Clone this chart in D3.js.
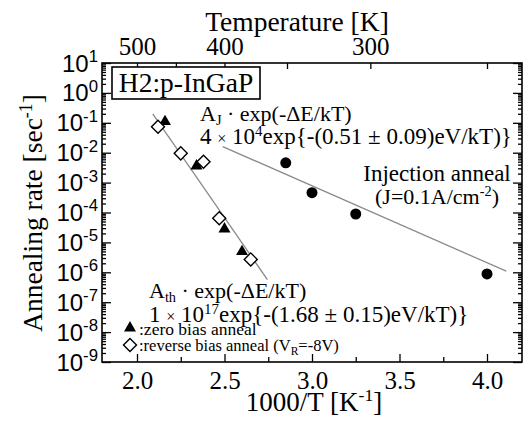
<!DOCTYPE html>
<html><head><meta charset="utf-8">
<script src="https://cdn.jsdelivr.net/npm/d3@7"></script>
<style>
html,body{margin:0;padding:0;background:#fff;}
svg{display:block;font-family:"Liberation Serif","Times New Roman",serif;}
text{white-space:pre;}
</style></head><body>
<svg id="chart" width="531" height="428"></svg>
<script>
// ---- data ----
const injX = [2.85, 3.00, 3.25, 4.00];
const injRate = [4.6e-3, 4.6e-4, 8.9e-5, 8.8e-7];
const zeroX = [2.16, 2.34, 2.50, 2.60];
const zeroRate = [1.1e-1, 3.6e-3, 2.8e-5, 4.9e-6];
const revX = [2.12, 2.25, 2.38, 2.47, 2.65];
const revRate = [7.4e-2, 9.5e-3, 5.0e-3, 6.4e-5, 2.7e-6];
const fitJX = [2.49, 4.11];
const fitJRate = [1.6e-2, 1.09e-6];
const fitThX = [2.09, 2.745];
const fitThRate = [2.0e-1, 5.7e-7];
const xTicks = [2.0, 2.5, 3.0, 3.5, 4.0];
const xMinorTicks = [2.25, 2.75, 3.25, 3.75];
const tempTicks = [500, 450, 400, 350, 300, 250];
const tempLabels = [500, 400, 300];
const yExponents = [1, 0, -1, -2, -3, -4, -5, -6, -7, -8, -9];

// ---- layout ----
const L = 102, R = 522, T = 63, B = 362;
const svg = d3.select("#chart");
const x = d3.scaleLinear().domain([1.8, 4.2]).range([L, R]);
const y = d3.scaleLog().domain([1e-9, 1e1]).range([B, T]);

const yMajor = yExponents.map(e => Math.pow(10, e));
const yMinor = [];
yExponents.slice(1).forEach(e => { for (let m = 2; m <= 9; m++) yMinor.push(m * Math.pow(10, e)); });

function rich(g, px, py, parts, size, anchor) {
  const t = g.append("text").attr("x", px).attr("y", py).attr("font-size", size)
    .attr("text-anchor", anchor || "start").attr("fill", "#000");
  let cur = 0;
  parts.forEach(p => {
    const off = p.sup ? -(p.rise || 0.38) * size : (p.sub ? (p.drop || 0.25) * size : 0);
    const sp = t.append("tspan").attr("dy", off - cur).text(p.t);
    if (p.sup || p.sub) sp.attr("font-size", size * (p.scale || 0.65));
    else if (p.scale) sp.attr("font-size", size * p.scale);
    cur = off;
  });
  return t;
}

// ---- axes ----
function styleAxis(g) {
  g.select(".domain").remove();
  g.selectAll(".tick line").attr("stroke", "#000").attr("stroke-width", 1.3);
}
// left
svg.append("g").attr("transform", `translate(${L},0)`)
  .call(d3.axisLeft(y).tickValues(yMinor).tickSize(-4).tickFormat(""))
  .call(styleAxis);
const yl = svg.append("g").attr("transform", `translate(${L},0)`)
  .call(d3.axisLeft(y).tickValues(yMajor).tickSize(-9).tickFormat(""))
  .call(styleAxis);
yl.selectAll(".tick").each(function(d) {
  const e = Math.round(Math.log10(d));
  rich(d3.select(this), -4, 8, [{t: "10"}, {t: String(e), sup: true, scale: 0.7, rise: 0.4}], 24, "end");
});
// right
svg.append("g").attr("transform", `translate(${R},0)`)
  .call(d3.axisRight(y).tickValues(yMinor).tickSize(-4).tickFormat(""))
  .call(styleAxis);
svg.append("g").attr("transform", `translate(${R},0)`)
  .call(d3.axisRight(y).tickValues(yMajor).tickSize(-9).tickFormat(""))
  .call(styleAxis);
// bottom
const xb = svg.append("g").attr("transform", `translate(0,${B})`)
  .call(d3.axisBottom(x).tickValues(xTicks).tickSize(-8).tickFormat(d3.format(".1f")))
  .call(styleAxis);
xb.selectAll("text").attr("font-size", 25).attr("font-family", "Liberation Serif")
  .attr("fill", "#000").attr("y", 27).attr("dy", 0);
svg.append("g").attr("transform", `translate(0,${B})`)
  .call(d3.axisBottom(x).tickValues(xMinorTicks).tickSize(-5).tickFormat(""))
  .call(styleAxis);
// top (temperature)
const xt = svg.append("g").attr("transform", `translate(0,${T})`)
  .call(d3.axisTop(x).tickValues(tempTicks.map(t => 1000 / t)).tickSize(-6)
    .tickFormat(v => { const t = Math.round(1000 / v); return tempLabels.includes(t) ? String(t) : ""; }))
  .call(styleAxis);
xt.selectAll("text").attr("font-size", 25).attr("font-family", "Liberation Serif")
  .attr("fill", "#000").attr("y", -8).attr("dy", 0);

// frame
svg.append("rect").attr("x", L).attr("y", T).attr("width", R - L).attr("height", B - T)
  .attr("fill", "none").attr("stroke", "#000").attr("stroke-width", 1.6);

// titles
svg.append("text").attr("x", 297).attr("y", 31).attr("text-anchor", "middle").attr("font-size", 27.5).text("Temperature [K]");
rich(svg, 314, 411, [{t: "1000/T [K"}, {t: "-1", sup: true}, {t: "]"}], 27, "middle");
const yt = svg.append("g").attr("transform", "translate(42,213) rotate(-90)");
rich(yt, 0, 0, [{t: "Annealing rate [sec"}, {t: "-1", sup: true}, {t: "]"}], 27.5, "middle");

// label box
svg.append("rect").attr("x", 112).attr("y", 67).attr("width", 148).attr("height", 32)
  .attr("fill", "#fff").attr("stroke", "#000").attr("stroke-width", 1.6);
svg.append("text").attr("x", 186).attr("y", 92).attr("text-anchor", "middle").attr("font-size", 27.5).text("H2:p-InGaP");

// ---- fit lines ----
const line = d3.line().x(d => x(d[0])).y(d => y(d[1]));
svg.append("path").datum(fitJX.map((v, i) => [v, fitJRate[i]])).attr("d", line)
  .attr("fill", "none").attr("stroke", "#8a8a8a").attr("stroke-width", 1.3);
svg.append("path").datum(fitThX.map((v, i) => [v, fitThRate[i]])).attr("d", line)
  .attr("fill", "none").attr("stroke", "#8a8a8a").attr("stroke-width", 1.3);

// ---- points ----
const tri = d3.symbol().type(d3.symbolTriangle).size(62);
const dia = d3.symbol().type(d3.symbolSquare).size(85);
const circ = d3.symbol().type(d3.symbolCircle).size(95);
svg.append("g").selectAll("path").data(injX.map((v, i) => [v, injRate[i]])).join("path")
  .attr("d", circ).attr("transform", d => `translate(${x(d[0])},${y(d[1])})`).attr("fill", "#000");
svg.append("g").selectAll("path").data(zeroX.map((v, i) => [v, zeroRate[i]])).join("path")
  .attr("d", tri).attr("transform", d => `translate(${x(d[0])},${y(d[1])})`).attr("fill", "#000");
svg.append("g").selectAll("path").data(revX.map((v, i) => [v, revRate[i]])).join("path")
  .attr("d", dia).attr("transform", d => `translate(${x(d[0])},${y(d[1])}) rotate(45)`)
  .attr("fill", "#fff").attr("stroke", "#000").attr("stroke-width", 1.4);

// ---- annotations ----
rich(svg, 200, 121, [{t: "A"}, {t: "J", sub: true, drop: 0.2}, {t: " · exp(-ΔE/kT)"}], 22);
rich(svg, 200, 144, [{t: "4 "}, {t: "×", scale: 0.7}, {t: " 10"}, {t: "4", sup: true, rise: 0.34}, {t: "exp{-(0.51 ± 0.09)eV/kT)}"}], 23);
svg.append("text").attr("x", 437).attr("y", 181).attr("text-anchor", "middle").attr("font-size", 23).text("Injection anneal");
rich(svg, 437, 204, [{t: "(J=0.1A/cm"}, {t: "-2", sup: true}, {t: ")"}], 22, "middle");
rich(svg, 149, 298, [{t: "A"}, {t: "th", sub: true, drop: 0.2}, {t: " · exp(-ΔE/kT)"}], 22);
rich(svg, 149, 322, [{t: "1 "}, {t: "×", scale: 0.7}, {t: " 10"}, {t: "17", sup: true, rise: 0.34}, {t: "exp{-(1.68 ± 0.15)eV/kT)}"}], 23);

// legend
svg.append("path").attr("d", tri).attr("transform", "translate(130,328)").attr("fill", "#000");
svg.append("text").attr("x", 139).attr("y", 335).attr("font-size", 17.5).text(":zero bias anneal");
svg.append("path").attr("d", dia).attr("transform", "translate(130,345) rotate(45)")
  .attr("fill", "#fff").attr("stroke", "#000").attr("stroke-width", 1.4);
rich(svg, 139, 351, [{t: ":reverse bias anneal (V"}, {t: "R", sub: true, scale: 0.7}, {t: "=-8V)"}], 16.5);
</script>
</body></html>
